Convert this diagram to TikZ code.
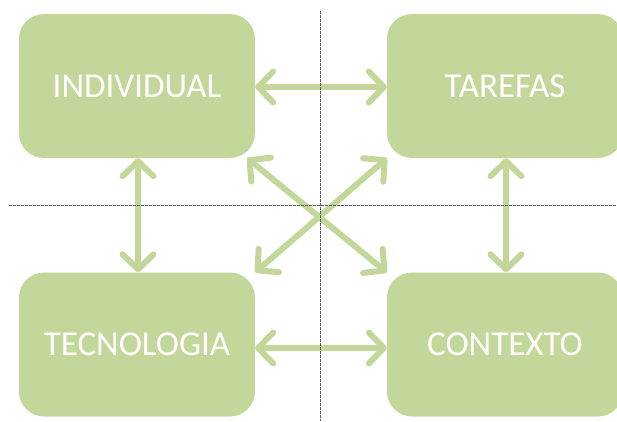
\documentclass[tikz,border=0pt]{standalone}
\usepackage{fontspec}
\setmainfont{Carlito}
\usetikzlibrary{arrows.meta}
\definecolor{boxgreen}{HTML}{C4D79B}
\definecolor{dotgray}{HTML}{5A5A5A}
\begin{document}
\begin{tikzpicture}[x=1pt,y=-1pt,
  box/.style={fill=boxgreen, rounded corners=25pt, minimum width=236pt, minimum height=144pt, text=white, font=\fontsize{35}{40}\selectfont, inner sep=0pt},
  barb/.tip={Straight Barb[length=15pt,width=31pt,round]},
  link/.style={draw=boxgreen, line width=6pt, barb-barb},
  guide/.style={draw=dotgray, line width=0.8pt, dash pattern=on 2.5pt off 1.5pt}]
\useasboundingbox (0,0) rectangle (617,421);
\clip (0,0) rectangle (617,421);
\node[box] (ind) at (137,86) {INDIVIDUAL};
\node[box] (tar) at (505,86) {TAREFAS};
\node[box] (tec) at (137,344.5) {TECNOLOGIA};
\node[box] (con) at (505,344.5) {CONTEXTO};
\draw[link] ([yshift=-1pt]ind.east) -- ([yshift=-1pt]tar.west);
\draw[link] ([yshift=-3.5pt]tec.east) -- ([yshift=-3.5pt]con.west);
\draw[link] ([xshift=1pt]ind.south) -- ([xshift=1pt]tec.north);
\draw[link] ([xshift=1pt]tar.south) -- ([xshift=1pt]con.north);
\draw[link] ([xshift=-8pt]ind.south east) -- (con.north west);
\draw[link] (tar.south west) -- (tec.north east);
\coordinate (vtop) at (320,11);
\coordinate (vbot) at (320,421);
\coordinate (hleft) at (9,205);
\coordinate (hright) at (617,205);
\draw[guide] (vtop) -- (vbot);
\draw[guide] (hleft) -- (hright);
\end{tikzpicture}
\end{document}
